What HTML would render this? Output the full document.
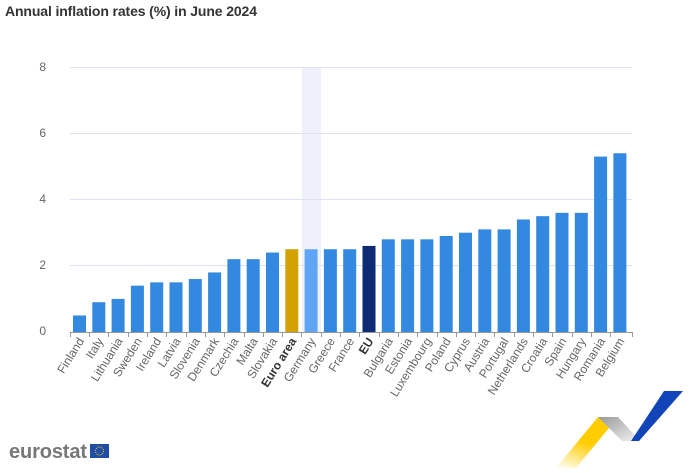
<!DOCTYPE html>
<html><head><meta charset="utf-8"><style>
body{margin:0;background:#fff;width:700px;height:468px;overflow:hidden;font-family:"Liberation Sans",sans-serif}
</style></head><body>
<svg width="700" height="468" xmlns="http://www.w3.org/2000/svg" font-family="Liberation Sans, sans-serif">
<text x="5" y="16" font-size="14" font-weight="bold" fill="#333" textLength="252">Annual inflation rates (%) in June 2024</text>
<rect x="302" y="67" width="19" height="265" fill="#eef1fb"/>
<g stroke="#dfe3f0" stroke-width="1">
<line x1="70" y1="67.5" x2="632" y2="67.5"/>
<line x1="70" y1="133.5" x2="632" y2="133.5"/>
<line x1="70" y1="199.5" x2="632" y2="199.5"/>
<line x1="70" y1="265.5" x2="632" y2="265.5"/>
</g>
<g font-size="12" fill="#666" text-anchor="end">
<text x="46" y="71">8</text><text x="46" y="137">6</text><text x="46" y="203">4</text><text x="46" y="269">2</text><text x="46" y="335">0</text>
</g>
<g id="bars"></g>
<line x1="70" y1="332.5" x2="632" y2="332.5" stroke="#999"/>
<g id="ticks" stroke="#999"></g>
<g id="labels" font-size="12" fill="#666" text-anchor="end"></g>
<text x="9" y="458" font-size="20" font-weight="bold" fill="#777" textLength="78">eurostat</text>
<rect x="90" y="444" width="19" height="14" fill="#1f4ea8"/>
<circle cx="99.5" cy="451" r="4" fill="none" stroke="#ffcc00" stroke-width="1" stroke-dasharray="1 1.1"/>
<defs>
<linearGradient id="yg" x1="0" y1="1" x2="0.4" y2="0"><stop offset="0" stop-color="#ffcc00" stop-opacity="0"/><stop offset="0.6" stop-color="#ffcc00"/></linearGradient>
<linearGradient id="gg" x1="0" y1="0" x2="1" y2="1"><stop offset="0" stop-color="#999"/><stop offset="1" stop-color="#f4f4f4"/></linearGradient>
</defs>
<polygon points="556,468 598,417 618,417 576,468" fill="url(#yg)"/>
<polygon points="598,417 618,417 640,441 622,441" fill="url(#gg)"/>
<polygon points="631,441 664,391 683,391 639,441" fill="#1144b8"/>
</svg>
<script>
var names=["Finland","Italy","Lithuania","Sweden","Ireland","Latvia","Slovenia","Denmark","Czechia","Malta","Slovakia","Euro area","Germany","Greece","France","EU","Bulgaria","Estonia","Luxembourg","Poland","Cyprus","Austria","Portugal","Netherlands","Croatia","Spain","Hungary","Romania","Belgium"];
var vals=[0.5,0.9,1.0,1.4,1.5,1.5,1.6,1.8,2.2,2.2,2.4,2.5,2.5,2.5,2.5,2.6,2.8,2.8,2.8,2.9,3.0,3.1,3.1,3.4,3.5,3.6,3.6,5.3,5.4];
var ns="http://www.w3.org/2000/svg",b=document.getElementById("bars"),t=document.getElementById("ticks"),l=document.getElementById("labels");
function el(n,a,p){var e=document.createElementNS(ns,n);for(var k in a)e.setAttribute(k,a[k]);p.appendChild(e);return e;}
for(var i=0;i<29;i++){var c=79.5+19.3*i,h=vals[i]*33.1;
var col=i==11?"#d4a200":i==12?"#5ea6f5":i==15?"#0e2a75":"#3388e0";
el("rect",{x:c-6.5,y:332-h,width:13,height:h,fill:col},b);
var tx=Math.round(c-9.65)+0.5;el("line",{x1:tx,y1:332,x2:tx,y2:337},t);
var ax=c+5,ay=341;
var tx2=el("text",{x:ax,y:ay,transform:"rotate(-58 "+ax+" "+ay+")"},l);tx2.textContent=names[i];
if(i==11||i==15){tx2.setAttribute("font-weight","bold");tx2.setAttribute("fill","#333");}}
el("line",{x1:632.5,y1:332,x2:632.5,y2:337},t);
</script>
</body></html>
